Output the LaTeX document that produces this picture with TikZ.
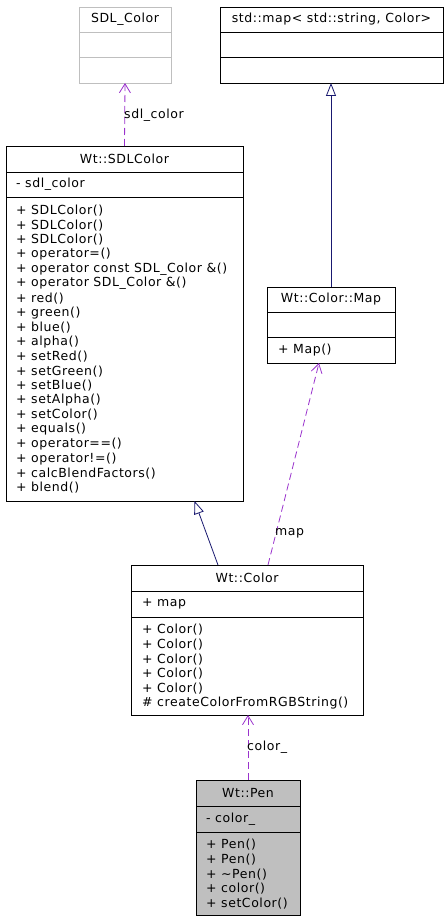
\documentclass[tikz,border=0pt]{standalone}
\usepackage{fontspec}
\setmainfont[LetterSpace=4.5]{DejaVu Sans}
\usetikzlibrary{arrows.meta,calc}
\definecolor{dgpurple}{HTML}{9A32CD}
\definecolor{dgnavy}{HTML}{191970}
\definecolor{dggrey}{HTML}{BFBFBF}
\begin{document}
\begin{tikzpicture}[x=1pt,y=-1pt,
  font=\fontsize{12.5}{14}\selectfont,
  cls/.style={draw=black,line width=0.9pt,fill=white,anchor=north west,inner sep=0pt,outer sep=0pt,rectangle},
  ttl/.style={anchor=center,inner sep=0pt},
  mem/.style={anchor=west,inner sep=0pt},
  lbl/.style={anchor=west,inner sep=0pt},
  div/.style={line width=0.9pt},
  dep/.style={draw=dgpurple,line width=0.8pt,dash pattern=on 7pt off 4pt,-{Straight Barb[length=9pt,width=11pt]}},
  inh/.style={draw=dgnavy,line width=0.8pt,-{Triangle[open,length=13pt,width=10pt,fill=white]}},
]
\useasboundingbox[fill=white] (0,0) rectangle (447,920);

% SDL_Color
\node[cls,draw=dggrey,minimum width=92pt,minimum height=76pt] (sdlcls) at (79,7) {};
\draw[div,dggrey] (sdlcls.west |- 0,32) -- (sdlcls.east |- 0,32);
\draw[div,dggrey] (sdlcls.west |- 0,57) -- (sdlcls.east |- 0,57);
\node[ttl] (sdlcls-t) at (125,19.5) {SDL\_Color};

% std::map
\node[cls,minimum width=223pt,minimum height=76pt] (stdmap) at (220,7) {};
\draw[div] (stdmap.west |- 0,32) -- (stdmap.east |- 0,32);
\draw[div] (stdmap.west |- 0,57) -- (stdmap.east |- 0,57);
\node[ttl] (stdmap-t) at (331.5,19.5) {std::map< std::string, Color>};

% Wt::SDLColor
\node[cls,minimum width=237pt,minimum height=355pt] (sdlc) at (6,146) {};
\draw[div] (sdlc.west |- 0,172) -- (sdlc.east |- 0,172);
\draw[div] (sdlc.west |- 0,197) -- (sdlc.east |- 0,197);
\node[ttl] (sdlc-t) at (124.5,159) {Wt::SDLColor};
\node[mem] (sdlc-a) at (16,184.5) {- sdl\_color};
\foreach \t [count=\i from 0] in {+ SDLColor(),+ SDLColor(),+ SDLColor(),+ operator=(),+ operator const SDL\_Color \&(),+ operator SDL\_Color \&(),+ red(),+ green(),+ blue(),+ alpha(),+ setRed(),+ setGreen(),+ setBlue(),+ setAlpha(),+ setColor(),+ equals(),+ operator==(),+ operator!=(),+ calcBlendFactors(),+ blend()}
  \node[mem] (sdlc-m\i) at (16,{210.5+14.6*\i}) {\t};

% Wt::Color::Map
\node[cls,minimum width=128pt,minimum height=76pt] (map) at (267,287) {};
\draw[div] (map.west |- 0,312) -- (map.east |- 0,312);
\draw[div] (map.west |- 0,337) -- (map.east |- 0,337);
\node[ttl] (map-t) at (331,299.5) {Wt::Color::Map};
\node[mem] (map-m0) at (278,350) {+ Map()};

% Wt::Color
\node[cls,minimum width=232pt,minimum height=150pt] (color) at (131,565) {};
\draw[div] (color.west |- 0,591) -- (color.east |- 0,591);
\draw[div] (color.west |- 0,617) -- (color.east |- 0,617);
\node[ttl] (color-t) at (247,578) {Wt::Color};
\node[mem] (color-a) at (142,604) {+ map};
\foreach \t [count=\i from 0] in {+ Color(),+ Color(),+ Color(),+ Color(),+ Color(),\# createColorFromRGBString()}
  \node[mem] (color-m\i) at (142,{630+14.6*\i}) {\t};

% Wt::Pen
\node[cls,fill=dggrey,minimum width=104pt,minimum height=135pt] (pen) at (196,780) {};
\draw[div] (pen.west |- 0,806) -- (pen.east |- 0,806);
\draw[div] (pen.west |- 0,832) -- (pen.east |- 0,832);
\node[ttl] (pen-t) at (248,793) {Wt::Pen};
\node[mem] (pen-a) at (206,819) {- color\_};
\foreach \t [count=\i from 0] in {+ Pen(),+ Pen(),+ \textasciitilde Pen(),+ color(),+ setColor()}
  \node[mem] (pen-m\i) at (206,{845+14.6*\i}) {\t};

% connectors
\draw[dep] (sdlc.north) -- (sdlcls.south);
\node[lbl] (lbl-sdl) at (124,115) {sdl\_color};
\draw[inh] (map.north) -- (map.north |- stdmap.south);
\draw[inh] ([xshift=-29pt]color.north) -- ([xshift=70pt]sdlc.south);
\draw[dep] ([xshift=21pt]color.north) -- ([xshift=-12pt]map.south);
\node[lbl] (lbl-map) at (275,533) {map};
\draw[dep] (pen.north) -- (pen.north |- color.south);
\node[lbl] (lbl-col) at (247,747) {color\_};
\end{tikzpicture}
\end{document}
